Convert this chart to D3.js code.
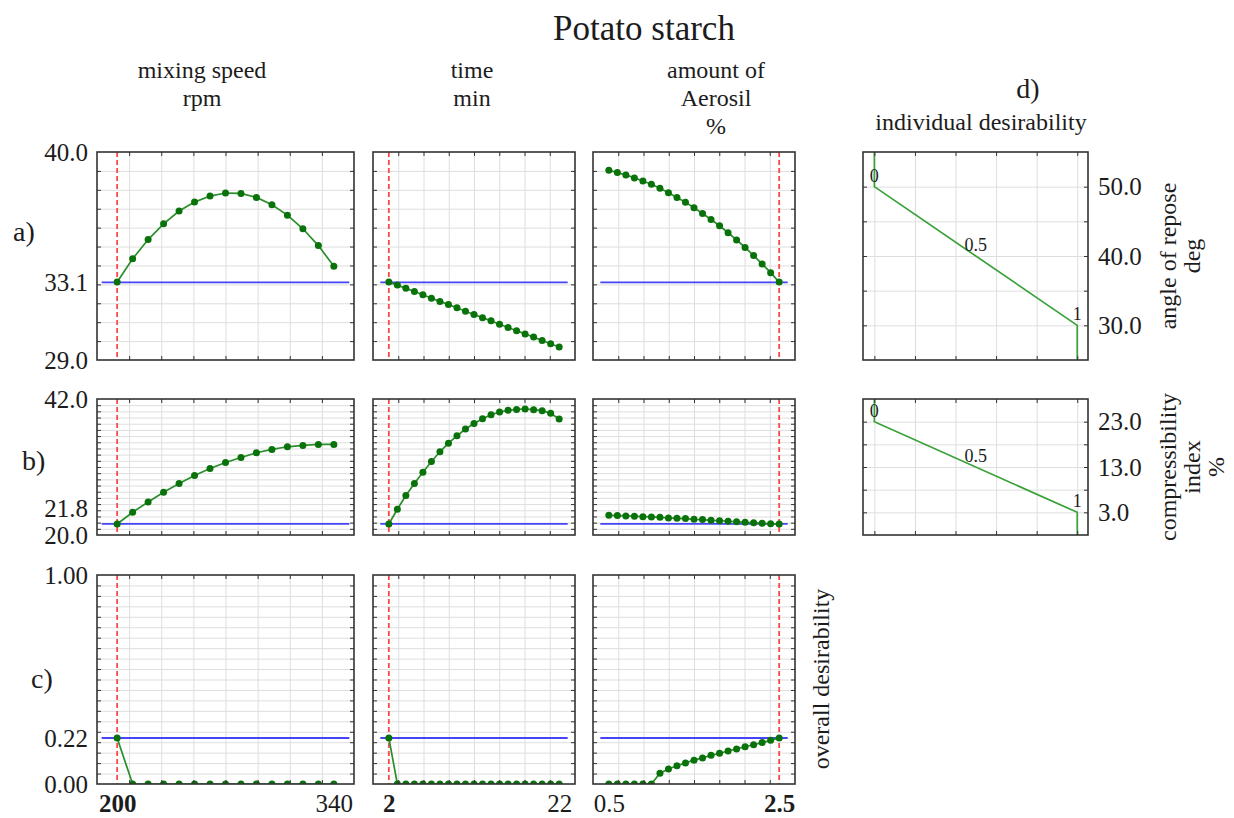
<!DOCTYPE html>
<html lang="en">
<head>
<meta charset="utf-8">
<script src="https://cdn.jsdelivr.net/npm/d3@7"></script>
<style>
    body { margin: 0; background: #fff; }
    svg text { font-family: "Liberation Serif", "Times New Roman", serif; fill: #1c1c1c; }
    .grid line { stroke: #dedede; stroke-width: 1; }
    .grid path, .ticks path, .lbl path { display: none; }
    .ticks line { stroke: #333; stroke-width: 1; }
    .lbl text { font-size: 25px; }
</style>
</head>
<body>
<script>
// factor levels (x axes)
const speedLevels = [200, 210, 220, 230, 240, 250, 260, 270, 280, 290, 300, 310, 320, 330, 340];
const timeLevels = [2, 3, 4, 5, 6, 7, 8, 9, 10, 11, 12, 13, 14, 15, 16, 17, 18, 19, 20, 21, 22];
const aerosilLevels = [0.5, 0.6, 0.7, 0.8, 0.9, 1.0, 1.1, 1.2, 1.3, 1.4, 1.5, 1.6, 1.7, 1.8, 1.9, 2.0, 2.1, 2.2, 2.3, 2.4, 2.5];
const currentFactors = [200, 2, 2.5];

// a) angle of repose, deg
const reposeVsSpeed = [33.12, 34.35, 35.37, 36.20, 36.88, 37.35, 37.67, 37.83, 37.81, 37.60, 37.21, 36.66, 35.94, 35.05, 33.96];
const reposeVsTime = [33.12, 32.96, 32.79, 32.62, 32.45, 32.27, 32.10, 31.93, 31.76, 31.58, 31.41, 31.24, 31.07, 30.89, 30.72, 30.55, 30.38, 30.21, 30.03, 29.86, 29.69];
const reposeVsAerosil = [39.04, 38.91, 38.79, 38.63, 38.47, 38.29, 38.08, 37.85, 37.60, 37.34, 37.05, 36.75, 36.43, 36.10, 35.73, 35.35, 34.95, 34.52, 34.08, 33.62, 33.12];

// b) compressibility index, %
const compressVsSpeed = [21.78, 23.68, 25.35, 26.92, 28.32, 29.62, 30.76, 31.73, 32.54, 33.30, 33.84, 34.27, 34.49, 34.65, 34.65];
const compressVsTime = [21.78, 24.16, 26.38, 28.32, 30.16, 31.89, 33.46, 34.86, 36.05, 37.14, 38.05, 38.81, 39.46, 39.89, 40.16, 40.32, 40.38, 40.27, 40.11, 39.68, 38.76];
const compressVsAerosil = [23.19, 23.14, 23.08, 23.03, 22.97, 22.92, 22.86, 22.76, 22.70, 22.65, 22.54, 22.49, 22.38, 22.32, 22.22, 22.16, 22.05, 22.00, 21.89, 21.84, 21.78];

// c) overall desirability
const desirVsSpeed = [0.22, 0, 0, 0, 0, 0, 0, 0, 0, 0, 0, 0, 0, 0, 0];
const desirVsTime = [0.22, 0, 0, 0, 0, 0, 0, 0, 0, 0, 0, 0, 0, 0, 0, 0, 0, 0, 0, 0, 0];
const desirVsAerosil = [0, 0, 0, 0, 0, 0, 0.052, 0.072, 0.087, 0.101, 0.114, 0.125, 0.137, 0.147, 0.158, 0.168, 0.178, 0.188, 0.198, 0.209, 0.22];

// y tick labels: min, current, max
const reposeTicks = [29.0, 33.1, 40.0];
const compressTicks = [20.0, 21.8, 42.0];
const desirTicks = [0.00, 0.22, 1.00];

// d) individual desirability functions
const reposeDesirY = [55, 50, 30, 25];
const reposeDesirD = [0, 0, 1, 1];
const compressDesirY = [28, 23, 3, -2];
const compressDesirD = [0, 0, 1, 1];
const desirMarks = ["0", "0.5", "1"];
const desirMarkD = [0, 0.5, 1];
const reposeMarkY = [50, 40, 30];
const compressMarkY = [23, 13, 3];
const reposeRightTicks = [30.0, 40.0, 50.0];
const compressRightTicks = [3.0, 13.0, 23.0];

const W = 1234, H = 818;
const svg = d3.select("body").append("svg").attr("width", W).attr("height", H);
svg.append("rect").attr("width", W).attr("height", H).attr("fill", "#fff");

const factors = [
    { levels: speedLevels, left: 97, right: 354, head: ["mixing speed", "rpm"], headX: 202 },
    { levels: timeLevels, left: 373, right: 575, head: ["time", "min"], headX: 472 },
    { levels: aerosilLevels, left: 593, right: 795, head: ["amount of", "Aerosil", "%"], headX: 716 }
];
const responses = [
    { top: 152, bottom: 360, domain: [29, 40], step: 1, ticks: reposeTicks, fmt: ".1f", lift: 0,
      series: [reposeVsSpeed, reposeVsTime, reposeVsAerosil], label: "a)", lx: 13, ly: 241 },
    { top: 399, bottom: 535, domain: [20, 42], step: 1, ticks: compressTicks, fmt: ".1f", lift: 15,
      series: [compressVsSpeed, compressVsTime, compressVsAerosil], label: "b)", lx: 22, ly: 470 },
    { top: 575, bottom: 784, domain: [0, 1], step: 0.05, ticks: desirTicks, fmt: ".2f", lift: 0,
      series: [desirVsSpeed, desirVsTime, desirVsAerosil], label: "c)", lx: 31, ly: 688 }
];

let clipId = 0;

function frame(g, x, y, w, h, gx, gy) {
    g.append("g").attr("class", "grid").attr("transform", "translate(0," + h + ")")
        .call(d3.axisBottom(x).tickValues(gx).tickSize(-h).tickFormat(""));
    g.append("g").attr("class", "grid")
        .call(d3.axisLeft(y).tickValues(gy).tickSize(-w).tickFormat(""));
}

function border(g, x, y, w, h, gx, gy) {
    g.append("rect").attr("width", w).attr("height", h)
        .attr("fill", "none").attr("stroke", "#333").attr("stroke-width", 1.6);
    g.append("g").attr("class", "ticks").call(d3.axisTop(x).tickValues(gx).tickSize(-4).tickFormat(""));
    g.append("g").attr("class", "ticks").attr("transform", "translate(0," + h + ")")
        .call(d3.axisBottom(x).tickValues(gx).tickSize(-4).tickFormat(""));
    g.append("g").attr("class", "ticks").call(d3.axisLeft(y).tickValues(gy).tickSize(-4).tickFormat(""));
    g.append("g").attr("class", "ticks").attr("transform", "translate(" + w + ",0)")
        .call(d3.axisRight(y).tickValues(gy).tickSize(-4).tickFormat(""));
}

responses.forEach((r, ri) => {
    const h = r.bottom - r.top;
    const n = Math.round((r.domain[1] - r.domain[0]) / r.step);
    const gy = d3.range(1, n).map(i => r.domain[0] + i * r.step);
    const current = r.ticks[1];

    factors.forEach((f, fi) => {
        const w = f.right - f.left;
        const lo = d3.min(f.levels), hi = d3.max(f.levels);
        const pad = (hi - lo) * 0.093;
        const dstep = f.levels[1] - f.levels[0];
        const x = d3.scaleLinear().domain([lo - pad, hi + pad]).range([0, w]);
        const y = d3.scaleLinear().domain(r.domain).range([h, 0]);
        const gx = d3.range(1, 8).map(i => x.invert(i * w / 8));
        const vals = r.series[fi];

        const g = svg.append("g").attr("transform", "translate(" + f.left + "," + r.top + ")");
        const id = "clip" + (clipId++);
        g.append("clipPath").attr("id", id).append("rect").attr("width", w).attr("height", h);

        frame(g, x, y, w, h, gx, gy);

        const inner = g.append("g").attr("clip-path", "url(#" + id + ")");
        inner.append("line")
            .attr("x1", x(lo - dstep)).attr("x2", x(hi + dstep))
            .attr("y1", y(current)).attr("y2", y(current))
            .attr("stroke", "#4545f7").attr("stroke-width", 1.8);
        inner.append("line")
            .attr("x1", x(currentFactors[fi])).attr("x2", x(currentFactors[fi]))
            .attr("y1", 0).attr("y2", h)
            .attr("stroke", "#ff4747").attr("stroke-width", 1.8).attr("stroke-dasharray", "5,3");
        inner.append("path")
            .datum(vals)
            .attr("fill", "none").attr("stroke", "#2b8e2b").attr("stroke-width", 1.7)
            .attr("d", d3.line().x((d, i) => x(f.levels[i])).y(d => y(d)));
        inner.selectAll("circle")
            .data(vals)
            .enter()
            .append("circle")
            .attr("cx", (d, i) => x(f.levels[i]))
            .attr("cy", d => y(d))
            .attr("r", 3.5)
            .attr("fill", "#0a720a");

        border(g, x, y, w, h, gx, gy);

        if (fi === 0) {
            const ay = g.append("g").attr("class", "lbl")
                .call(d3.axisLeft(y).tickValues(r.ticks).tickSize(0).tickPadding(9).tickFormat(d3.format(r.fmt)));
            ay.selectAll("text").filter(d => d === current).attr("y", -r.lift);
        }
        if (ri === 2) {
            const ax = g.append("g").attr("class", "lbl").attr("transform", "translate(0," + h + ")")
                .call(d3.axisBottom(x).tickValues([lo, hi]).tickSize(0).tickPadding(10).tickFormat(d => String(d)));
            ax.selectAll("text").attr("font-weight", d => d === currentFactors[fi] ? "bold" : "normal");
        }
        if (ri === 0) {
            f.head.forEach((t, k) => {
                svg.append("text").attr("x", f.headX).attr("y", 78 + k * 28)
                    .attr("text-anchor", "middle").attr("font-size", "24px").text(t);
            });
        }
    });

    svg.append("text").attr("x", r.lx).attr("y", r.ly).attr("font-size", "28px").text(r.label);
});

// overall desirability title
svg.append("text")
    .attr("transform", "translate(829,679) rotate(-90)")
    .attr("text-anchor", "middle").attr("font-size", "24px")
    .text("overall desirability");

// individual desirability panels
const dPanels = [
    { top: 152, bottom: 360, domain: [25, 55], grid: [30, 35, 40, 45, 50], ticks: reposeRightTicks,
      ys: reposeDesirY, ds: reposeDesirD, markY: reposeMarkY, title: ["angle of repose", "deg"] },
    { top: 399, bottom: 535, domain: [-2, 28], grid: [3, 8, 13, 18, 23], ticks: compressRightTicks,
      ys: compressDesirY, ds: compressDesirD, markY: compressMarkY, title: ["compressibility", "index", "%"] }
];
const dLeft = 863, dRight = 1088;
const dGridX = [0, 0.2, 0.4, 0.6, 0.8, 1.0];

dPanels.forEach(p => {
    const w = dRight - dLeft, h = p.bottom - p.top;
    const x = d3.scaleLinear().domain([-0.056, 1.053]).range([0, w]);
    const y = d3.scaleLinear().domain(p.domain).range([h, 0]);
    const g = svg.append("g").attr("transform", "translate(" + dLeft + "," + p.top + ")");

    frame(g, x, y, w, h, dGridX, p.grid);

    g.append("path")
        .datum(p.ys)
        .attr("fill", "none").attr("stroke", "#38a238").attr("stroke-width", 1.7)
        .attr("d", d3.line().x((d, i) => x(p.ds[i])).y(d => y(d)));

    desirMarks.forEach((t, i) => {
        g.append("text").attr("x", x(desirMarkD[i])).attr("y", y(p.markY[i]) - 5)
            .attr("text-anchor", "middle").attr("font-size", "18px").text(t);
    });

    border(g, x, y, w, h, dGridX, p.grid);

    g.append("g").attr("class", "lbl").attr("transform", "translate(" + w + ",0)")
        .call(d3.axisRight(y).tickValues(p.ticks).tickSize(0).tickPadding(10).tickFormat(d3.format(".1f")));

    const cy = (p.top + p.bottom) / 2;
    p.title.forEach((t, k) => {
        svg.append("text")
            .attr("transform", "translate(" + (1176 + k * 24) + "," + cy + ") rotate(-90)")
            .attr("text-anchor", "middle").attr("font-size", "24px").text(t);
    });
});

// headings
svg.append("text").attr("x", 644).attr("y", 40).attr("text-anchor", "middle")
    .attr("font-size", "35px").text("Potato starch");
svg.append("text").attr("x", 1028).attr("y", 98).attr("text-anchor", "middle")
    .attr("font-size", "28px").text("d)");
svg.append("text").attr("x", 981).attr("y", 130).attr("text-anchor", "middle")
    .attr("font-size", "24px").text("individual desirability");
</script>
</body>
</html>
